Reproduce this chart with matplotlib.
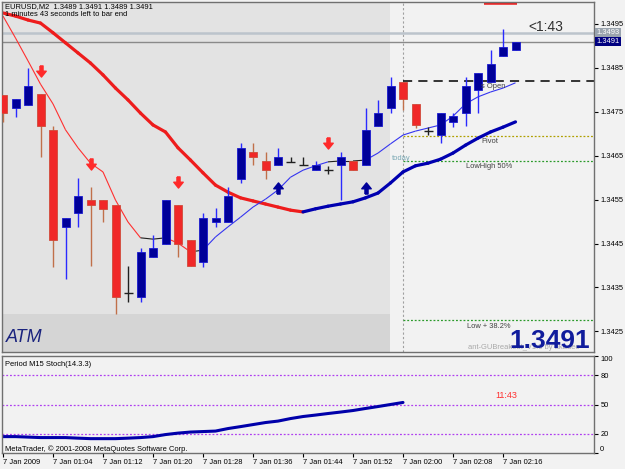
import matplotlib
matplotlib.use("Agg")
import matplotlib.pyplot as plt
from matplotlib.patches import Rectangle
from matplotlib.collections import LineCollection
from matplotlib.path import Path

W, H = 625, 469

# EURUSD M2, 7 Jan 2009, bars from 00:56
opens = [1.34788, 1.34759, 1.34765, 1.34791, 1.34709, 1.34488, 1.34519, 1.34549, 1.34549, 1.34538,
         1.34337, 1.34328, 1.34419, 1.34449, 1.34538, 1.34458, 1.34408, 1.34499, 1.34499, 1.34597,
         1.34658, 1.34638, 1.34629, 1.34636, 1.34629, 1.34617, 1.34617, 1.34629, 1.34638, 1.34629,
         1.34718, 1.34759, 1.34818, 1.34768, 1.34706, 1.34697, 1.34727, 1.34747, 1.34800, 1.34818,
         1.34877, 1.34890]
highs = [1.34788, 1.34779, 1.34850, 1.34791, 1.34718, 1.34508, 1.34599, 1.34579, 1.34549, 1.34538,
         1.34399, 1.34440, 1.34469, 1.34549, 1.34538, 1.34458, 1.34519, 1.34531, 1.34579, 1.34679,
         1.34679, 1.34658, 1.34668, 1.34647, 1.34647, 1.34638, 1.34627, 1.34658, 1.34638, 1.34759,
         1.34777, 1.34829, 1.34818, 1.34768, 1.34715, 1.34747, 1.34747, 1.34829, 1.34838, 1.34891,
         1.34939, 1.34910]
lows = [1.34727, 1.34738, 1.34765, 1.34647, 1.34396, 1.34369, 1.34488, 1.34399, 1.34499, 1.34289,
        1.34317, 1.34317, 1.34419, 1.34449, 1.34419, 1.34399, 1.34396, 1.34488, 1.34499, 1.34588,
        1.34629, 1.34597, 1.34629, 1.34636, 1.34629, 1.34617, 1.34608, 1.34549, 1.34617, 1.34629,
        1.34718, 1.34747, 1.34754, 1.34713, 1.34697, 1.34679, 1.34715, 1.34718, 1.34747, 1.34818,
        1.34877, 1.34890]
closes = [1.34747, 1.34779, 1.34809, 1.34718, 1.34458, 1.34508, 1.34558, 1.34538, 1.34529, 1.34328,
          1.34337, 1.34431, 1.34440, 1.34549, 1.34449, 1.34399, 1.34508, 1.34508, 1.34558, 1.34668,
          1.34647, 1.34617, 1.34647, 1.34636, 1.34629, 1.34629, 1.34617, 1.34647, 1.34617, 1.34709,
          1.34747, 1.34809, 1.34779, 1.34720, 1.34706, 1.34747, 1.34740, 1.34809, 1.34838, 1.34859,
          1.34898, 1.34910]

ma_slow = [1.34975, 1.34968, 1.34959, 1.34952, 1.34930, 1.34907, 1.34884, 1.34861, 1.34834, 1.34804,
           1.34777, 1.34747, 1.34720, 1.34704, 1.34668, 1.34640, 1.34611, 1.34583, 1.34567, 1.34554,
           1.34547, 1.34540, 1.34533, 1.34526, 1.34522, 1.34529, 1.34535, 1.34540, 1.34545, 1.34554,
           1.34565, 1.34588, 1.34613, 1.34627, 1.34633, 1.34642, 1.34656, 1.34674, 1.34690, 1.34704,
           1.34715, 1.34727]
ma_fast = [1.34968, 1.34918, 1.34866, 1.34813, 1.34768, 1.34709, 1.34668, 1.34633, 1.34613, 1.34549,
           1.34499, 1.34463, 1.34460, 1.34463, 1.34451, 1.34431, 1.34435, 1.34465, 1.34488, 1.34510,
           1.34533, 1.34551, 1.34572, 1.34601, 1.34617, 1.34627, 1.34636, 1.34638, 1.34638, 1.34640,
           1.34656, 1.34677, 1.34697, 1.34706, 1.34713, 1.34720, 1.34740, 1.34768, 1.34784, 1.34795,
           1.34804, 1.34816]

stoch = [16.9, 16.9, 16.4, 15.9, 15.9, 15.9, 15.3, 14.8, 14.8, 14.8,
         15.3, 15.9, 16.9, 19.0, 20.5, 21.6, 22.1, 22.6, 25.2, 27.2,
         29.3, 31.4, 32.9, 35.5, 37.6, 39.1, 40.7, 42.2, 43.8, 45.9,
         47.9, 50.0, 52.1]
stoch_levels = [20, 50, 80]

time_labels = ["7 Jan 2009", "7 Jan 01:04", "7 Jan 01:12", "7 Jan 01:20", "7 Jan 01:28",
               "7 Jan 01:36", "7 Jan 01:44", "7 Jan 01:52", "7 Jan 02:00", "7 Jan 02:08",
               "7 Jan 02:16"]
price_ticks = [1.3425, 1.3435, 1.3445, 1.3455, 1.3465, 1.3475, 1.3485, 1.3495]

down_arrows = [3, 7, 14, 26]
up_arrows = [22, 29]

bid = 1.3491
ask = 1.3493
day_open = 1.3482
pivot = 1.34695
lowhigh_50 = 1.34638
low_382 = 1.34276
top_level = 1.3500
today_bar = 32

plt.rcParams["font.family"] = ["Liberation Sans", "DejaVu Sans"]

RED = "#f02828"
NAVY = "#000099"
BG = "#f2f2f2"


def px(x, y):
    return x / W, 1 - y / H


fig = plt.figure(figsize=(W / 100, H / 100), dpi=100, facecolor=BG)
ax = fig.add_axes([2 / W, 1 - 352 / H, 592 / W, 350 / H], facecolor=BG)
ax2 = fig.add_axes([2 / W, 1 - 453 / H, 592 / W, 97 / H], facecolor=BG)

xmin, xmax = -0.08, 47.28
ymin, ymax = 1.34203, 1.35000
ax.set_xlim(xmin, xmax)
ax.set_ylim(ymin, ymax)

# background boxes (previous session + ATM band)
shade_end = 30.96
band_top = 1.342894
ax.add_patch(Rectangle((xmin, band_top), shade_end - xmin, ymax - band_top,
                       facecolor="#e3e3e3", edgecolor="none", zorder=0))
ax.add_patch(Rectangle((xmin, ymin), shade_end - xmin, band_top - ymin,
                       facecolor="#d5d5d5", edgecolor="none", zorder=0))

# levels
ax.axvline(today_bar, color="#a0a0a0", lw=0.8, ls=(0, (2, 2)), zorder=1)
ax.hlines(day_open, today_bar, xmax, color="black", lw=1.1, ls=(0, (6, 4)), zorder=1)
ax.hlines(pivot, today_bar, xmax, color="#b0a000", lw=0.9, ls=(0, (1.5, 1.5)), zorder=1)
ax.hlines(lowhigh_50, today_bar, xmax, color="#2a9a2a", lw=0.9, ls=(0, (1.5, 1.5)), zorder=1)
ax.hlines(low_382, today_bar, xmax, color="#2a9a2a", lw=0.9, ls=(0, (1.5, 1.5)), zorder=1)
ax.axhline(ask, color="#bcc4cc", lw=1.8, zorder=1)
ax.axhline(bid, color="#8a8a8a", lw=1.0, zorder=1)
ax.hlines(top_level, 38.5, 41.1, color="#ee2020", lw=4, zorder=1)


def seg_colors(vals, thr, flat):
    cols = []
    for a, b in zip(vals[:-1], vals[1:]):
        if b - a > thr:
            cols.append("up")
        elif a - b > thr:
            cols.append("down")
        else:
            cols.append(flat)
    return cols


idx = list(range(len(closes)))

slow_cols = seg_colors(ma_slow, 0, "down")
segs = [[(i, ma_slow[i]), (i + 1, ma_slow[i + 1])] for i in range(len(ma_slow) - 1)]
cmap = {"up": "#0000b0", "down": "#ee1c1c", "flat": "black"}
ax.add_collection(LineCollection(segs, colors=[cmap[c] for c in slow_cols], linewidths=2.3,
                                 capstyle="round", zorder=2))

fast_cols = seg_colors(ma_fast, 0.00005, "flat")
segs = [[(i, ma_fast[i]), (i + 1, ma_fast[i + 1])] for i in range(len(ma_fast) - 1)]
cmap2 = {"up": "#3535f0", "down": "#ff3030", "flat": "#202020"}
ax.add_collection(LineCollection(segs, colors=[cmap2[c] for c in fast_cols], linewidths=0.8,
                                 zorder=2))

# candles
bw = 0.64
for i, o, h, l, c in zip(idx, opens, highs, lows, closes):
    if abs(c - o) < 1e-7:
        ax.vlines(i, l, h, color="#202020", lw=1.0, zorder=3)
        ax.hlines(o, i - 0.36, i + 0.36, color="#202020", lw=1.0, zorder=3)
        continue
    if c > o:
        face, edge, wick = NAVY, "#1a1ad0", "#2a2aff"
    else:
        face, edge, wick = RED, "#d04a3a", "#c0704a"
    ax.vlines(i, l, h, color=wick, lw=1.0, zorder=3)
    ax.add_patch(Rectangle((i - bw / 2, min(o, c)), bw, abs(c - o),
                           facecolor=face, edgecolor=edge, lw=0.6, zorder=4))

# signal arrows (thick arrow markers)
down_marker = Path([(-0.28, 1), (0.28, 1), (0.28, 0.05), (0.85, 0.05), (0, -1),
                    (-0.85, 0.05), (-0.28, 0.05), (-0.28, 1)])
up_marker = Path([(x, -y) for x, y in down_marker.vertices])
off = 0.00053
ax.plot(down_arrows, [highs[i] + off for i in down_arrows], ls="none", marker=down_marker,
        ms=8, color="#ff2a2a", mec="#ff2a2a", zorder=5)
ax.plot(up_arrows, [lows[i] - off for i in up_arrows], ls="none", marker=up_marker,
        ms=8, color=NAVY, mec=NAVY, zorder=5)

# axes styling
for a in (ax, ax2):
    for s in a.spines.values():
        s.set_color("#707070")
        s.set_linewidth(1.0)
ax.set_xticks([])
ax.yaxis.tick_right()
ax.set_yticks(price_ticks)
ax.set_yticklabels(["%.4f" % p for p in price_ticks])
ax.tick_params(axis="y", length=3, width=0.8, pad=1.5, labelsize=5.4, colors="black")

# price boxes at right
ax.text(1.004, ask, "%.4f" % ask, transform=ax.get_yaxis_transform(), fontsize=5.4,
        color="white", va="center", ha="left",
        bbox=dict(boxstyle="square,pad=0.15", fc="#9aa4ae", ec="none"), zorder=6, clip_on=False)
ax.text(1.004, bid, "%.4f" % bid, transform=ax.get_yaxis_transform(), fontsize=5.4,
        color="white", va="center", ha="left",
        bbox=dict(boxstyle="square,pad=0.15", fc="#000080", ec="none"), zorder=6, clip_on=False)

# stochastic panel
ax2.set_xlim(xmin, xmax)
ax2.set_ylim(0, 100)
for lv in stoch_levels:
    ax2.axhline(lv, color="#b040f0", lw=0.9, ls=(0, (1.5, 1.5)))
ax2.plot(range(len(stoch)), stoch, color="#0000aa", lw=2.2, solid_capstyle="round")
ax2.yaxis.tick_right()
ax2.set_yticks([0, 20, 50, 80, 100])
ax2.set_yticklabels(["0", "20", "50", "80", "100"])
ax2.tick_params(axis="y", length=3, width=0.8, pad=1.5, labelsize=5.4)
ylab = ax2.get_yticklabels()
ylab[0].set_va("bottom")
ylab[-1].set_va("top")
ax2.set_xticks(range(0, 41, 4))
ax2.set_xticklabels(time_labels)
ax2.tick_params(axis="x", length=3, width=0.8, pad=1.5, labelsize=5.4)
for t in ax2.get_xticklabels():
    t.set_ha("left")

# texts
fs = 5.4
fig.text(*px(5, 7), "EURUSD,M2  1.3489 1.3491 1.3489 1.3491", fontsize=fs, va="center")
fig.text(*px(5, 15), "1 minutes 43 seconds left to bar end", fontsize=fs, va="center")
fig.text(*px(528, 27), "<1:43", fontsize=10, color="#303030", va="center")
fig.text(*px(6, 337), "ATM", fontsize=13, style="italic", color="#1a237e", va="center")
fig.text(*px(392, 158), "today", fontsize=fs, color="#7aa8b4", va="center")
fig.text(*px(481, 87), "s Open", fontsize=fs, color="#404040", va="center")
fig.text(*px(481, 141), "Pivot", fontsize=fs, color="#404040", va="center")
fig.text(*px(466, 166), "LowHigh 50%", fontsize=fs, color="#404040", va="center")
fig.text(*px(467, 326), "Low + 38.2%", fontsize=fs, color="#404040", va="center")
fig.text(*px(468, 347), "ant-GUBreakout_V1.0 by akadeo", fontsize=fs, color="#a8a8a8", va="center")
fig.text(*px(590, 348), "%.4f" % bid, fontsize=19, fontweight="bold", color="#101c9c",
         ha="right", va="baseline")
fig.text(*px(5, 364), "Period M15 Stoch(14.3.3)", fontsize=fs, va="center")
fig.text(*px(5, 449), "MetaTrader, \u00a9 2001-2008 MetaQuotes Software Corp.", fontsize=fs, va="center")
fig.text(*px(495, 395), "11:43", fontsize=6.5, color="#ff3030", va="center")

fig.savefig("out.png", dpi=100, facecolor=BG)
